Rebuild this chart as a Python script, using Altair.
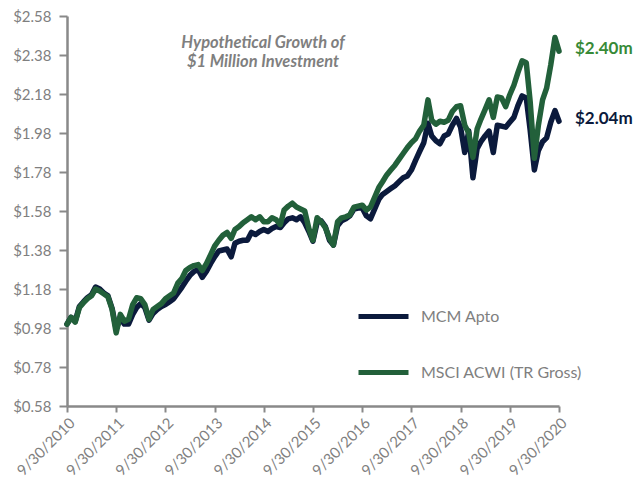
import calendar
import altair as alt
import pandas as pd

# ---------------- data ----------------
series_names = ["MCM Apto", "MSCI ACWI (TR Gross)"]

# month-end dates, Sep 2010 .. Sep 2020 (121 points)
dates = []
for yr in range(2010, 2021):
    for mo in range(1, 13):
        if (yr == 2010 and mo < 9) or (yr == 2020 and mo > 9):
            continue
        dates.append(f"{yr}-{mo:02d}-{calendar.monthrange(yr, mo)[1]:02d}")

mcm_apto = [
    1.00, 1.035, 1.015, 1.09, 1.115, 1.135, 1.15, 1.19, 1.18, 1.16, 1.145, 1.08,
    0.975, 1.03, 1.00, 1.00, 1.05, 1.085, 1.105, 1.085, 1.02, 1.055, 1.075, 1.09,
    1.10, 1.115, 1.13, 1.16, 1.19, 1.22, 1.25, 1.27, 1.28, 1.24, 1.27, 1.31,
    1.345, 1.375, 1.38, 1.385, 1.345, 1.415, 1.425, 1.43, 1.43, 1.47, 1.46, 1.475,
    1.485, 1.475, 1.49, 1.50, 1.495, 1.52, 1.54, 1.545, 1.535, 1.55, 1.52, 1.475,
    1.425, 1.52, 1.53, 1.50, 1.43, 1.405, 1.505, 1.53, 1.54, 1.555, 1.59, 1.595,
    1.595, 1.555, 1.54, 1.59, 1.64, 1.665, 1.68, 1.695, 1.71, 1.73, 1.75, 1.76,
    1.79, 1.84, 1.885, 1.93, 2.03, 1.965, 1.94, 1.925, 1.965, 1.975, 2.02, 2.055,
    2.01, 1.88, 1.99, 1.75, 1.90, 1.935, 1.965, 1.99, 1.88, 2.02, 2.015, 2.01,
    2.035, 2.06, 2.12, 2.17, 2.16, 1.995, 1.79, 1.89, 1.935, 1.955, 2.035, 2.095,
    2.04,
]

msci_acwi = [
    1.00, 1.035, 1.01, 1.085, 1.11, 1.13, 1.145, 1.18, 1.17, 1.155, 1.14, 1.075,
    0.955, 1.05, 1.015, 1.025, 1.10, 1.135, 1.13, 1.10, 1.025, 1.075, 1.09, 1.105,
    1.13, 1.145, 1.16, 1.21, 1.235, 1.275, 1.29, 1.30, 1.305, 1.275, 1.31, 1.355,
    1.40, 1.43, 1.455, 1.47, 1.44, 1.485, 1.50, 1.52, 1.535, 1.55, 1.535, 1.55,
    1.525, 1.525, 1.545, 1.535, 1.51, 1.585, 1.605, 1.62, 1.60, 1.59, 1.58, 1.49,
    1.43, 1.545, 1.525, 1.495, 1.44, 1.405, 1.525, 1.545, 1.55, 1.56, 1.60, 1.605,
    1.61, 1.585, 1.60, 1.65, 1.70, 1.73, 1.765, 1.79, 1.815, 1.845, 1.875, 1.905,
    1.93, 1.95, 1.99, 2.02, 2.15, 2.045, 2.025, 2.04, 2.035, 2.045, 2.09, 2.115,
    2.12, 2.02, 1.98, 1.855, 2.00, 2.05, 2.10, 2.15, 2.06, 2.165, 2.16, 2.115,
    2.175, 2.225, 2.29, 2.35, 2.34, 2.14, 1.85, 2.02, 2.15, 2.21, 2.33, 2.47,
    2.40,
]

y_ticks = [0.58, 0.78, 0.98, 1.18, 1.38, 1.58, 1.78, 1.98, 2.18, 2.38, 2.58]
x_tick_years = list(range(2010, 2021))
title_lines = ["Hypothetical Growth of", "$1 Million Investment"]

NAVY = "#0b1a3c"
GREEN = "#22603a"
LABEL_GREEN = "#378a37"
GRAY = "#7f7f7f"
AXIS = "#898989"
FONT = "Lato"

# ---------------- tables ----------------
df = pd.concat([
    pd.DataFrame({"date": dates, "value": mcm_apto, "series": series_names[0]}),
    pd.DataFrame({"date": dates, "value": msci_acwi, "series": series_names[1]}),
], ignore_index=True)

end_df = pd.DataFrame({
    "date": [dates[-1], dates[-1]],
    "value": [mcm_apto[-1], msci_acwi[-1]],
    "series": series_names,
    "label": [f"${mcm_apto[-1]:.2f}m", f"${msci_acwi[-1]:.2f}m"],
})

x_scale = alt.Scale(
    type="utc",
    domain=[alt.DateTime(year=2010, month=9, date=30, utc=True),
            alt.DateTime(year=2020, month=9, date=30, utc=True)],
)
y_scale = alt.Scale(domain=[0.58, 2.58], nice=False, zero=False)

x_axis = alt.Axis(
    values=[alt.DateTime(year=y, month=9, date=30, utc=True) for y in x_tick_years],
    labelExpr="utcFormat(datum.value, '%-m/%d/%Y')",
    labelAngle=-45,
    labelAlign="right",
    labelBaseline="top",
    labelOverlap=False,
    title=None,
    grid=False,
    tickSize=6,
    labelPadding=3,
)
y_axis = alt.Axis(values=y_ticks, format="$.2f", title=None, grid=False,
                  labelOverlap=False, tickSize=8, labelPadding=8)

x_enc = alt.X("date:T", scale=x_scale, axis=x_axis)
y_enc = alt.Y("value:Q", scale=y_scale, axis=y_axis)

lines = alt.Chart(df).mark_line(
    strokeWidth=5.5, strokeCap="round", strokeJoin="round"
).encode(
    x=x_enc,
    y=y_enc,
    color=alt.Color(
        "series:N",
        scale=alt.Scale(domain=series_names, range=[NAVY, GREEN]),
        sort=series_names,
        legend=alt.Legend(
            title=None,
            orient="none",
            legendX=289,
            legendY=273,
            symbolType="stroke",
            symbolSize=2500,
            symbolStrokeWidth=5,
            labelFontSize=16,
            labelFont=FONT,
            labelColor=GRAY,
            labelOffset=10,
            labelLimit=400,
            rowPadding=18,
            padding=0,
        ),
    ),
    order=alt.Order("series:N"),
)

end_labels = alt.Chart(end_df).mark_text(
    align="left", baseline="middle", dx=16, dy=-2, fontSize=17, fontWeight="bold", font=FONT
).encode(
    x=x_enc,
    y=y_enc,
    text="label:N",
    color=alt.Color("series:N",
                    scale=alt.Scale(domain=series_names, range=[NAVY, LABEL_GREEN]),
                    legend=None),
)

title = alt.Chart(pd.DataFrame({"t": ["\n".join(title_lines)]})).mark_text(
    align="center", baseline="top", fontSize=16.5, fontWeight="bold", fontStyle="italic",
    font=FONT, color=GRAY, lineBreak="\n", lineHeight=19,
).encode(
    x=alt.value(196),
    y=alt.value(19),
    text="t:N",
)

chart = alt.layer(lines, end_labels, title).resolve_scale(color="independent").properties(
    width=492,
    height=390,
    autosize="none",
    padding={"left": 59, "top": 8, "right": 74, "bottom": 74},
).configure(background="white").configure_view(stroke=None).configure_axis(
    domainColor=AXIS,
    domainWidth=2.5,
    tickColor=AXIS,
    tickWidth=2,
    labelColor=GRAY,
    labelFont=FONT,
    labelFontSize=15,
)

chart.save("out.html", embed_options={"renderer": "svg", "actions": False})
